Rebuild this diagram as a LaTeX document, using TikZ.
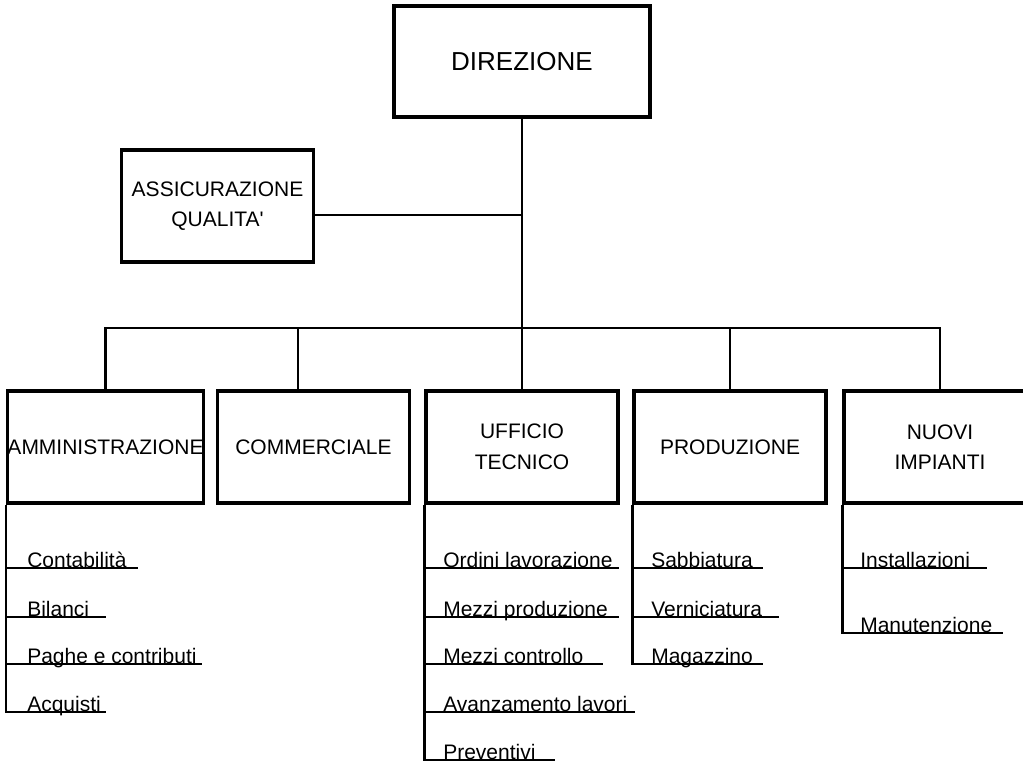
\documentclass[tikz,border=0pt]{standalone}
\usepackage{fontspec}
\setmainfont{Liberation Sans}[Ligatures=TeXOff]
\usepackage{tikz}

\tikzset{
  unit/.style={draw, line width=2.3pt, minimum width=144pt, minimum height=84pt, inner sep=0pt, align=center, font=\fontsize{15.75}{23}\selectfont},
  voce/.style={anchor=base west, inner sep=0pt, font=\fontsize{15.75}{18}\selectfont},
  link/.style={line width=1.9pt}
}

\begin{document}
\begin{tikzpicture}[x=0.75pt,y=0.75pt,yscale=-1,xscale=1]
\useasboundingbox (0,0) rectangle (1023,764);

%Shape: Rectangle [direzione]
\node[unit, line width=2.8pt, minimum width=192pt, minimum height=83pt, font=\fontsize{19.5}{22}\selectfont] (dir) at (522,61.5) {DIREZIONE};
%Shape: Rectangle [assicurazione qualita]
\node[unit] (qa) at (217.5,206) {ASSICURAZIONE\\QUALITA'};

%Shape: Rectangle [uffici]
\node[unit] (amm) at (105.5,447) {AMMINISTRAZIONE};
\node[unit] (com) at (313.5,447) {COMMERCIALE};
\node[unit] (uff) at (522,447) {UFFICIO\\TECNICO};
\node[unit] (pro) at (730,447) {PRODUZIONE};
\node[unit] (nuo) at (940,447) {NUOVI\\IMPIANTI};

%Straight Lines [tronco e barra]
\coordinate (bus) at (523,328);
\coordinate (qaj) at (522,215);
\coordinate (comj) at (298,328);
\draw[link] (dir.south) -- (dir.south |- bus);
\draw[link] (qa.east |- qaj) -- (qaj);
\draw[link] (amm.north) |- (bus) -- (bus -| nuo.north) -- (nuo.north);
\draw[link] (comj) -- (comj |- com.north);
\draw[link] (uff.north) -- (uff.north |- bus);
\draw[link] (pro.north) -- (pro.north |- bus);

% Text Node [amministrazione]
\node[voce] (amm1) at (27,567) {Contabilità};
\node[voce] (amm2) at (27,616) {Bilanci};
\node[voce] (amm3) at (27,663) {Paghe e contributi};
\node[voce] (amm4) at (27,711) {Acquisti};
\coordinate (amm1e) at (138,568);
\coordinate (amm2e) at (106,617);
\coordinate (amm3e) at (202,664);
\coordinate (amm4e) at (106,712);
\draw[link] (amm.south west) |- (amm4e);
\draw[link] (amm.south west |- amm1e) -- (amm1e);
\draw[link] (amm.south west |- amm2e) -- (amm2e);
\draw[link] (amm.south west |- amm3e) -- (amm3e);

% Text Node [ufficio tecnico]
\node[voce] (uff1) at (443,567) {Ordini lavorazione};
\node[voce] (uff2) at (443,616) {Mezzi produzione};
\node[voce] (uff3) at (443,663) {Mezzi controllo};
\node[voce] (uff4) at (443,711) {Avanzamento lavori};
\node[voce] (uff5) at (443,759) {Preventivi};
\coordinate (uff1e) at (619,568);
\coordinate (uff2e) at (619,617);
\coordinate (uff3e) at (603,664);
\coordinate (uff4e) at (635,712);
\coordinate (uff5e) at (555,760);
\draw[link] (uff.south west) |- (uff5e);
\draw[link] (uff.south west |- uff1e) -- (uff1e);
\draw[link] (uff.south west |- uff2e) -- (uff2e);
\draw[link] (uff.south west |- uff3e) -- (uff3e);
\draw[link] (uff.south west |- uff4e) -- (uff4e);

% Text Node [produzione]
\node[voce] (pro1) at (651,567) {Sabbiatura};
\node[voce] (pro2) at (651,616) {Verniciatura};
\node[voce] (pro3) at (651,663) {Magazzino};
\coordinate (pro1e) at (763,568);
\coordinate (pro2e) at (779,617);
\coordinate (pro3e) at (763,664);
\draw[link] (pro.south west) |- (pro3e);
\draw[link] (pro.south west |- pro1e) -- (pro1e);
\draw[link] (pro.south west |- pro2e) -- (pro2e);

% Text Node [nuovi impianti]
\node[voce] (nuo1) at (860,567) {Installazioni};
\node[voce] (nuo2) at (860,632) {Manutenzione};
\coordinate (nuo1e) at (987,568);
\coordinate (nuo2e) at (1003,633);
\draw[link] (nuo.south west) |- (nuo2e);
\draw[link] (nuo.south west |- nuo1e) -- (nuo1e);

\end{tikzpicture}
\end{document}
